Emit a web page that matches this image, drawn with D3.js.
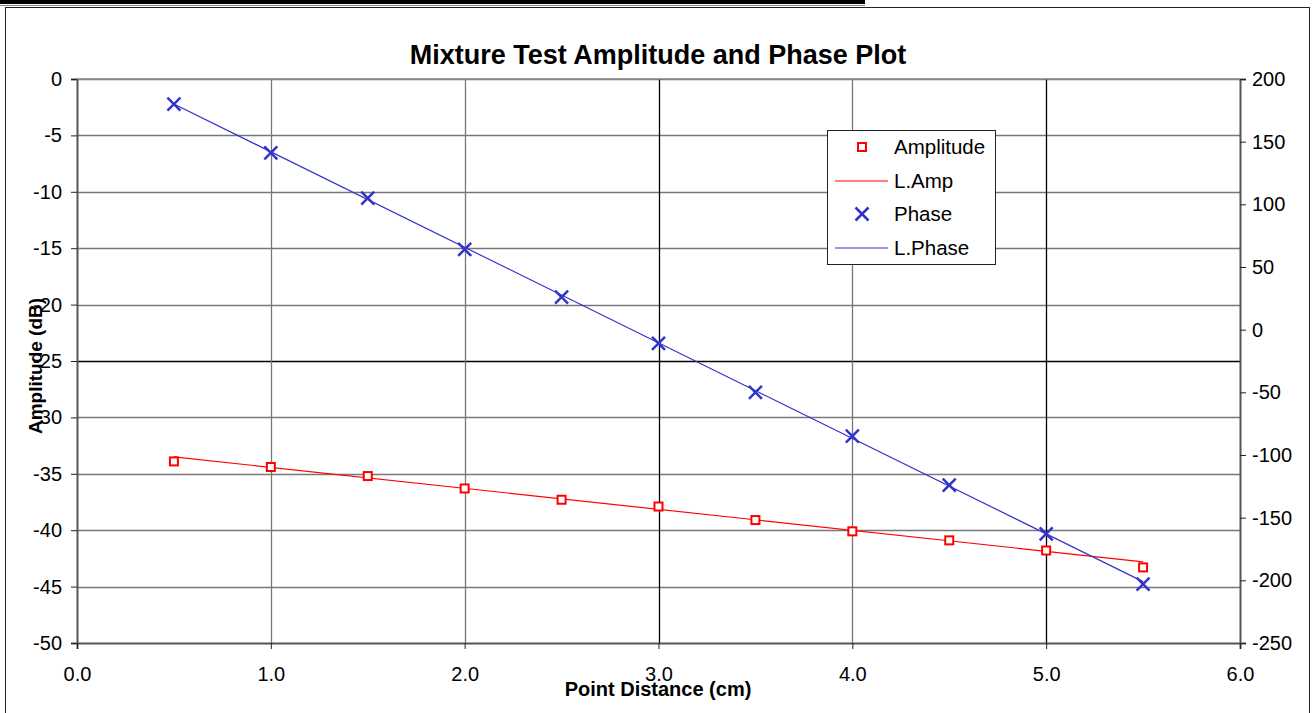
<!DOCTYPE html>
<html><head><meta charset="utf-8">
<script src="https://cdn.jsdelivr.net/npm/d3@7"></script>
<style>body{margin:0;background:#fff;}svg{display:block;font-family:"Liberation Sans",Arial,sans-serif;}</style>
</head><body>
<svg id="c" width="1313" height="713"></svg>
<script>
const distance = [0.5, 1.0, 1.5, 2.0, 2.5, 3.0, 3.5, 4.0, 4.5, 5.0, 5.5];
const amplitude = [-33.9, -34.4, -35.2, -36.3, -37.3, -37.9, -39.1, -40.1, -40.9, -41.8, -43.3];
const phase = [180, 141, 105, 64, 26, -11, -50, -85, -124, -163, -203];
const trendX = [0.5, 5.5];
const lAmp = [-33.5, -42.8];
const lPhase = [180, -201];
const xTicks = [0, 1, 2, 3, 4, 5, 6];
const ampTicks = [0, -5, -10, -15, -20, -25, -30, -35, -40, -45, -50];
const phaseTicks = [200, 150, 100, 50, 0, -50, -100, -150, -200, -250];

const svg = d3.select("#c");
const L = 77, R = 1240, T = 79, B = 643;
const x = d3.scaleLinear().domain([0, 6]).range([L, R]);
const yA = d3.scaleLinear().domain([-50, 0]).range([B, T]);
const yP = d3.scaleLinear().domain([-250, 200]).range([B, T]);
const FONT = "Liberation Sans, Arial, sans-serif";

// frame
svg.append("rect").attr("x", 0).attr("y", 0).attr("width", 865).attr("height", 4).attr("fill", "#000");
svg.append("line").attr("x1", 0).attr("x2", 865).attr("y1", 5.5).attr("y2", 5.5).attr("stroke", "#888").attr("stroke-width", 1);
svg.append("rect").attr("x", 5.5).attr("y", 7.5).attr("width", 1304).attr("height", 720)
  .attr("fill", "none").attr("stroke", "#222").attr("stroke-width", 1);

// grid
const g = svg.append("g");
g.selectAll(".hg").data(ampTicks.filter(d => d !== -50)).join("line")
  .attr("x1", L).attr("x2", R).attr("y1", d => Math.round(yA(d)) + 0.5).attr("y2", d => Math.round(yA(d)) + 0.5)
  .attr("stroke", d => d === -25 ? "#000" : "#777").attr("stroke-width", 1.3);
g.selectAll(".vg").data(xTicks.filter(d => d !== 0 && d !== 6)).join("line")
  .attr("y1", T).attr("y2", B).attr("x1", d => Math.round(x(d)) + 0.5).attr("x2", d => Math.round(x(d)) + 0.5)
  .attr("stroke", d => (d === 3 || d === 5) ? "#000" : "#777").attr("stroke-width", 1.3);

// axes
const fmtInt = d => String(d);
const axL = svg.append("g").attr("transform", `translate(${L},0)`)
  .call(d3.axisLeft(yA).tickValues(ampTicks).tickFormat(fmtInt).tickSize(6).tickPadding(9));
const axR = svg.append("g").attr("transform", `translate(${R},0)`)
  .call(d3.axisRight(yP).tickValues(phaseTicks).tickFormat(fmtInt).tickSize(6).tickPadding(6));
const axB = svg.append("g").attr("transform", `translate(0,${B})`)
  .call(d3.axisBottom(x).tickValues(xTicks).tickFormat(d => d.toFixed(1)).tickSize(6).tickPadding(18));
[axL, axR, axB].forEach(a => {
  a.select(".domain").attr("stroke", "#555").attr("stroke-width", 2);
  a.selectAll(".tick line").attr("stroke", "#222");
  a.selectAll("text").attr("font-size", 20).attr("fill", "#000").attr("font-family", FONT);
});
// top border of plot
svg.append("line").attr("x1", L).attr("x2", R).attr("y1", T).attr("y2", T).attr("stroke", "#888").attr("stroke-width", 1.5);

// title & labels
svg.append("text").attr("x", 658).attr("y", 64).attr("text-anchor", "middle")
  .attr("font-size", 27).attr("font-weight", "bold").text("Mixture Test Amplitude and Phase Plot");
svg.append("text").attr("x", 658).attr("y", 696).attr("text-anchor", "middle")
  .attr("font-size", 20).attr("font-weight", "bold").text("Point Distance (cm)");
svg.append("text").attr("transform", "translate(42,366) rotate(-90)").attr("text-anchor", "middle")
  .attr("font-size", 19).attr("font-weight", "bold").text("Amplitude (dB)");

const RED = "#ff0000", BLUE = "#3333cc";
// trend lines
const lineA = d3.line().x((d, i) => x(trendX[i])).y(d => yA(d));
const lineP = d3.line().x((d, i) => x(trendX[i])).y(d => yP(d));
svg.append("path").attr("d", lineA(lAmp)).attr("fill", "none").attr("stroke", RED).attr("stroke-width", 1.2);
svg.append("path").attr("d", lineP(lPhase)).attr("fill", "none").attr("stroke", BLUE).attr("stroke-width", 1.2);

// markers
function square(sel, cx, cy) {
  sel.append("rect").attr("x", cx - 4).attr("y", cy - 4).attr("width", 8).attr("height", 8)
    .attr("fill", "#fff").attr("stroke", RED).attr("stroke-width", 2);
}
function cross(sel, cx, cy) {
  const s = 6.5;
  sel.append("path").attr("d", `M${cx - s},${cy - s}L${cx + s},${cy + s}M${cx - s},${cy + s}L${cx + s},${cy - s}`)
    .attr("stroke", BLUE).attr("stroke-width", 2.5).attr("fill", "none");
}
const mk = svg.append("g");
distance.forEach((d, i) => square(mk, x(d), yA(amplitude[i])));
distance.forEach((d, i) => cross(mk, x(d), yP(phase[i])));

// legend
const lg = svg.append("g");
lg.append("rect").attr("x", 827.5).attr("y", 130.5).attr("width", 168).attr("height", 134)
  .attr("fill", "#fff").attr("stroke", "#222").attr("stroke-width", 1);
const items = [
  {name: "Amplitude", type: "sq", y: 147},
  {name: "L.Amp", type: "la", y: 181},
  {name: "Phase", type: "x", y: 214},
  {name: "L.Phase", type: "lp", y: 248}
];
items.forEach(it => {
  if (it.type === "sq") square(lg, 862, it.y);
  if (it.type === "x") cross(lg, 862, it.y);
  if (it.type === "la") lg.append("line").attr("x1", 835).attr("x2", 888).attr("y1", it.y).attr("y2", it.y).attr("stroke", RED).attr("stroke-width", 1.2);
  if (it.type === "lp") lg.append("line").attr("x1", 835).attr("x2", 888).attr("y1", it.y).attr("y2", it.y).attr("stroke", BLUE).attr("stroke-width", 1.2);
  lg.append("text").attr("x", 894).attr("y", it.y + 7).attr("font-size", 20.5).text(it.name);
});
</script>
</body></html>
